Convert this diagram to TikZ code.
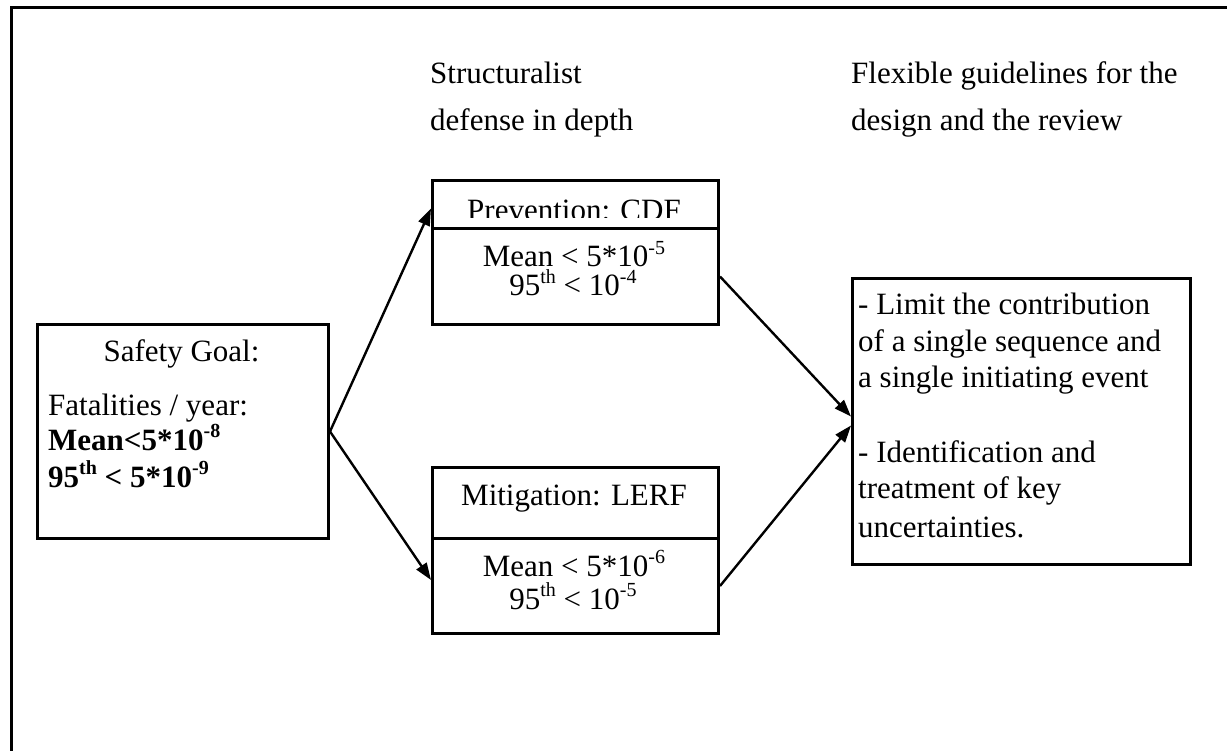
\documentclass[tikz,border=0pt]{standalone}
\usepackage{fontspec}
\setmainfont{Liberation Serif}
\usetikzlibrary{arrows.meta,calc}
\newcommand{\hi}[1]{\raisebox{0.4em}{\fontsize{20}{20}\selectfont #1}}
\begin{document}
\begin{tikzpicture}[x=1pt,y=-1pt,
  box/.style={draw=black,line width=3pt,rectangle,inner sep=0pt,anchor=north west},
  txt/.style={inner sep=0pt,font=\fontsize{31}{36}\selectfont},
  link/.style={line width=2.4pt,-{Triangle[length=17pt,width=12pt]}}]
  % page and outer frame
  \fill[white] (0,0) rectangle (1227,751);
  \useasboundingbox (0,0) rectangle (1227,751);
  \draw[line width=3pt] (11,751) -- (11,8) -- (1227,8);

  % column headings
  \node[txt,anchor=base west] (h1a) at (430,84) {Structuralist};
  \node[txt,anchor=base west] (h1b) at (430,131) {defense in depth};
  \node[txt,anchor=base west] (h2a) at (851,84) {Flexible guidelines for the};
  \node[txt,anchor=base west] (h2b) at (851,131) {design and the review};

  % safety goal
  \node[box,minimum width=291pt,minimum height=214pt] (goal) at (36,323) {};
  \node[txt,anchor=base] (g1) at (181.5,362) {Safety Goal:};
  \node[txt,anchor=base west] (g2) at (48,415) {Fatalities / year:};
  \node[txt,anchor=base west] (g3) at (48,450) {\bfseries Mean<5*10\hi{-8}};
  \node[txt,anchor=base west] (g4) at (48,487) {\bfseries 95\hi{th} < 5*10\hi{-9}};

  % prevention
  \node[box,minimum width=286pt,minimum height=48pt] (prevhead) at (431,179) {};
  \node[box,minimum width=286pt,minimum height=96pt] (prevbody) at (431,227) {};
  \begin{scope}
    \clip (431,179) rectangle (717,218);
    \node[txt,anchor=base] (p0) at (574,221) {Prevention: CDF};
  \end{scope}
  \node[txt,anchor=base] (p1) at (574,267) {Mean < 5*10\hi{-5}};
  \node[txt,anchor=base] (p2) at (573,296) {95\hi{th} < 10\hi{-4}};

  % mitigation
  \node[box,minimum width=286pt,minimum height=71pt] (mithead) at (431,466) {};
  \node[box,minimum width=286pt,minimum height=95pt] (mitbody) at (431,537) {};
  \node[txt,anchor=base] (m0) at (574,505) {Mitigation: LERF};
  \node[txt,anchor=base] (m1) at (574,576) {Mean < 5*10\hi{-6}};
  \node[txt,anchor=base] (m2) at (573,609) {95\hi{th} < 10\hi{-5}};

  % guidelines
  \node[box,minimum width=338pt,minimum height=286pt] (guide) at (851,277) {};
  \node[txt,anchor=base west] (r1) at (858,315) {- Limit the contribution};
  \node[txt,anchor=base west] (r2) at (858,352) {of a single sequence and};
  \node[txt,anchor=base west] (r3) at (858,388) {a single initiating event};
  \node[txt,anchor=base west] (r4) at (858,462) {- Identification and};
  \node[txt,anchor=base west] (r5) at (858,498) {treatment of key};
  \node[txt,anchor=base west] (r6) at (858,537) {uncertainties.};

  % connectors
  \draw[link] (goal.east) -- ($(prevhead.west)+(0,4)$);
  \draw[link] (goal.east) -- ($(mitbody.west)+(0,-6)$);
  \draw[link] (prevbody.east) -- ($(guide.west)+(0,-5)$);
  \draw[link] (mitbody.east) -- ($(guide.west)+(0,4)$);
\end{tikzpicture}
\end{document}
